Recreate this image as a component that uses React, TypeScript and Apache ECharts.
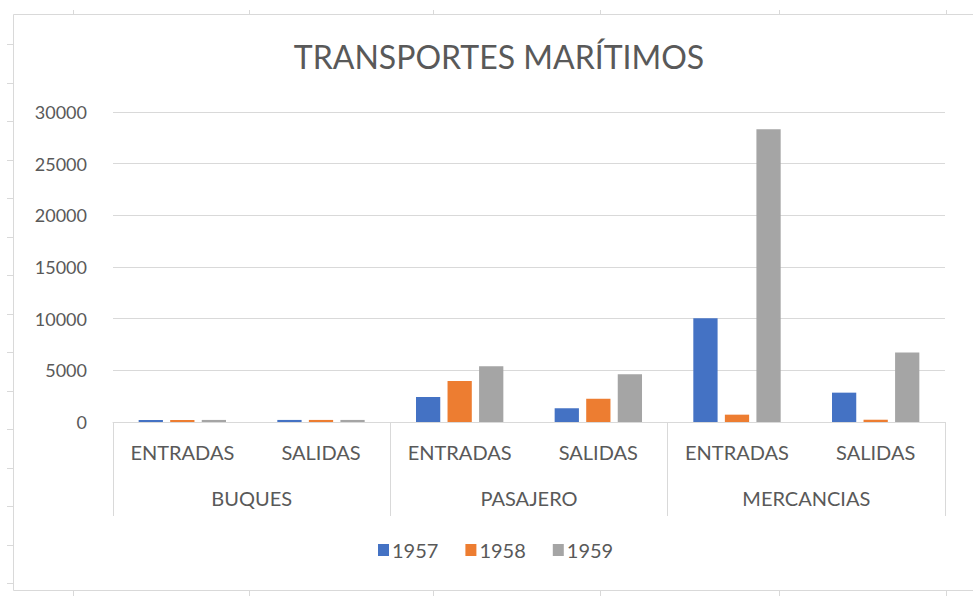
import React, { useEffect, useRef } from "react";
import * as echarts from "echarts";

const subCategories = ["ENTRADAS", "SALIDAS", "ENTRADAS", "SALIDAS", "ENTRADAS", "SALIDAS"];
const groupCategories = ["BUQUES", "PASAJERO", "MERCANCIAS"];
const seriesNames = ["1957", "1958", "1959"];
const values1957 = [200, 200, 2420, 1330, 10050, 2840];
const values1958 = [200, 200, 3970, 2250, 710, 220];
const values1959 = [200, 200, 5390, 4620, 28320, 6720];
const yTicks = { min: 0, max: 30000, interval: 5000 };

const FONT = "Lato, 'Open Sans', sans-serif";
const TEXT = "#595959";
const GRID = "#d9d9d9";
const COLORS = ["#4472C4", "#ED7D31", "#A5A5A5"];

// spreadsheet cell gridline stubs around the chart frame
const rowLines = Array.from({ length: 15 }, (_, k) => 44 + 38.5 * k);
const colLines = [73, 249, 433, 600, 779, 946];

export default function App() {
  const ref = useRef<HTMLDivElement>(null);
  useEffect(() => {
    if (!ref.current) return;
    const chart = echarts.init(ref.current, undefined, { renderer: "svg" });
    const graphics: any[] = [
      {
        type: "rect",
        shape: { x: 13.5, y: 14.5, width: 975, height: 576 },
        style: { fill: "none", stroke: GRID, lineWidth: 1 },
        silent: true,
      },
    ];
    rowLines.forEach((y) =>
      graphics.push({
        type: "line",
        shape: { x1: 7, y1: Math.round(y) + 0.5, x2: 13, y2: Math.round(y) + 0.5 },
        style: { stroke: GRID, lineWidth: 1 },
        silent: true,
      })
    );
    colLines.forEach((x) => {
      graphics.push({
        type: "line",
        shape: { x1: x + 0.5, y1: 10, x2: x + 0.5, y2: 14 },
        style: { stroke: GRID, lineWidth: 1 },
        silent: true,
      });
      graphics.push({
        type: "line",
        shape: { x1: x + 0.5, y1: 591, x2: x + 0.5, y2: 596 },
        style: { stroke: GRID, lineWidth: 1 },
        silent: true,
      });
    });

    const seriesData = [values1957, values1958, values1959];
    chart.setOption({
      animation: false,
      backgroundColor: "#ffffff",
      color: COLORS,
      textStyle: { fontFamily: FONT },
      title: {
        text: "TRANSPORTES MARÍTIMOS",
        left: 494,
        textAlign: "center",
        top: 35,
        textStyle: { fontFamily: FONT, fontSize: 32, fontWeight: "normal", color: TEXT },
      },
      legend: {
        data: seriesNames,
        left: 373,
        top: 535,
        itemWidth: 11,
        itemHeight: 12,
        itemGap: 27,
        icon: "rect",
        textStyle: { fontFamily: FONT, fontSize: 20, color: TEXT, padding: [0, 0, 0, -2] },
      },
      grid: { left: 113, right: 28, top: 112, bottom: 174, containLabel: false },
      xAxis: [
        {
          type: "category",
          data: subCategories,
          position: "bottom",
          axisLine: { show: true, lineStyle: { color: GRID, width: 1 } },
          axisTick: { show: false },
          axisLabel: {
            margin: 20,
            fontFamily: FONT,
            fontSize: 20,
            color: TEXT,
            interval: 0,
            lineHeight: 20,
          },
          splitLine: { show: false },
        },
        {
          type: "category",
          data: groupCategories,
          position: "bottom",
          offset: 0,
          axisLine: { show: false },
          axisTick: { show: true, length: 94, lineStyle: { color: GRID, width: 1 } },
          axisLabel: {
            margin: 66,
            fontFamily: FONT,
            fontSize: 20,
            color: TEXT,
            interval: 0,
            lineHeight: 20,
          },
          splitLine: { show: false },
        },
      ],
      yAxis: {
        type: "value",
        min: yTicks.min,
        max: yTicks.max,
        interval: yTicks.interval,
        axisLine: { show: false },
        axisTick: { show: false },
        axisLabel: {
          margin: 26,
          fontFamily: FONT,
          fontSize: 18,
          color: TEXT,
          formatter: (v: number) => String(v),
        },
        splitLine: { show: true, lineStyle: { color: GRID, width: 1 } },
      },
      series: seriesNames.map((name, i) => ({
        name,
        type: "bar",
        xAxisIndex: 0,
        data: seriesData[i],
        barGap: "30%",
        barCategoryGap: "37%",
        itemStyle: { color: COLORS[i] },
      })),
      graphic: graphics,
    });
    return () => chart.dispose();
  }, []);
  return (
    <div
      ref={ref}
      style={{ position: "absolute", left: 0, top: 0, width: 973, height: 596 }}
    />
  );
}
